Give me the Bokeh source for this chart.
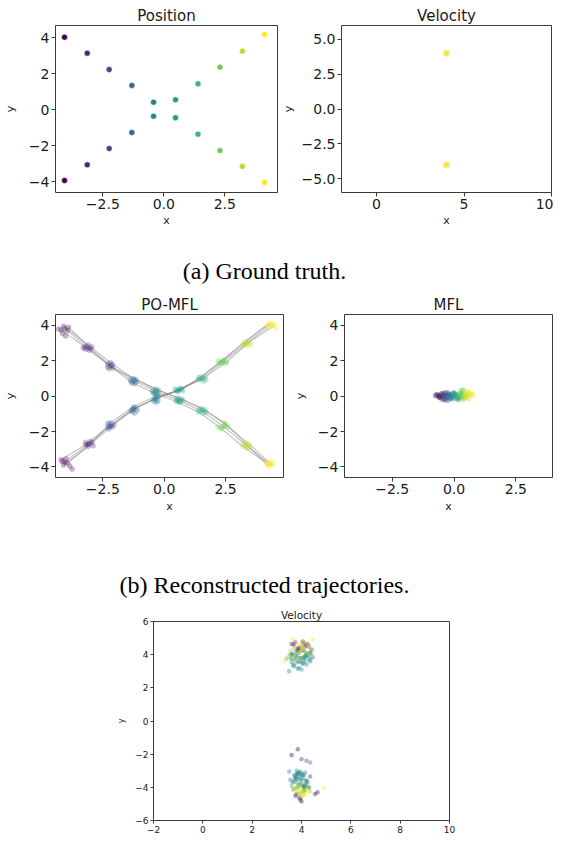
from bokeh.plotting import figure
from bokeh.layouts import column, row
from bokeh.models import FixedTicker, Div, Spacer, Range1d, ColumnDataSource
from bokeh.embed import file_html
from bokeh.resources import INLINE

VIRIDIS = ["#440154", "#482878", "#3E4989", "#31688E", "#26828E",
           "#1F9E89", "#35B779", "#6DCD59", "#B4DE2C", "#FDE725"]

# ---------------- tick values / labels ----------------
pos_xticks = [-2.5, 0.0, 2.5]
pos_xtick_labels = ["−2.5", "0.0", "2.5"]
pos_yticks = [-4.0, -2.0, 0.0, 2.0, 4.0]
pos_ytick_labels = ["−4", "−2", "0", "2", "4"]
vel_xticks = [0.0, 5.0, 10.0]
vel_xtick_labels = ["0", "5", "10"]
vel_yticks = [-5.0, -2.5, 0.0, 2.5, 5.0]
vel_ytick_labels = ["−5.0", "−2.5", "0.0", "2.5", "5.0"]
vel2_xticks = [-2.0, 0.0, 2.0, 4.0, 6.0, 8.0, 10.0]
vel2_xtick_labels = ["−2", "0", "2", "4", "6", "8", "10"]
vel2_yticks = [-6.0, -4.0, -2.0, 0.0, 2.0, 4.0, 6.0]
vel2_ytick_labels = ["−6", "−4", "−2", "0", "2", "4", "6"]

# ---------------- (a) ground truth ----------------
gt_x = [-4.07, -3.14, -2.24, -1.31, -0.42, 0.48, 1.40, 2.30, 3.22, 4.13]
gt_a_y = [4.04, 3.15, 2.24, 1.35, 0.42, -0.45, -1.36, -2.27, -3.15, -4.05]
gt_b_y = [-3.94, -3.07, -2.16, -1.27, -0.36, 0.55, 1.44, 2.37, 3.26, 4.19]
gt_vel_x = [4.0, 4.0, 4.0, 4.0, 4.0, 4.0, 4.0, 4.0, 4.0, 4.0]
gt_vel_a_y = [4.0, 4.0, 4.0, 4.0, 4.0, 4.0, 4.0, 4.0, 4.0, 4.0]
gt_vel_b_y = [-4.0, -4.0, -4.0, -4.0, -4.0, -4.0, -4.0, -4.0, -4.0, -4.0]

# ---------------- (b) PO-MFL particles (per time step) ----------------
pomfl_a_x = [
    [-4.05, -4.20, -3.90, -4.10, -3.95, -4.30, -4.02, -4.15],
    [-3.13, -3.25, -3.00, -3.10, -3.20, -2.95, -3.05, -3.30],
    [-2.19, -2.30, -2.10, -2.20, -2.25, -2.10, -2.30, -2.15],
    [-1.24, -1.35, -1.15, -1.25, -1.30, -1.15, -1.20, -1.38],
    [-0.34, -0.45, -0.25, -0.35, -0.40, -0.25, -0.30, -0.48],
    [0.61, 0.50, 0.70, 0.55, 0.65, 0.75, 0.50, 0.60],
    [1.53, 1.40, 1.65, 1.50, 1.60, 1.40, 1.70, 1.55],
    [2.41, 2.30, 2.50, 2.45, 2.20, 2.60, 2.35, 2.48],
    [3.35, 3.20, 3.45, 3.30, 3.40, 3.25, 3.50, 3.38],
    [4.30, 4.15, 4.40, 4.25, 4.35, 4.20, 4.45, 4.32],
]
pomfl_a_y = [
    [3.82, 3.75, 3.90, 3.95, 3.70, 3.80, 3.40, 3.55],
    [2.75, 2.80, 2.70, 2.90, 2.65, 2.80, 2.60, 2.72],
    [1.71, 1.80, 1.60, 1.90, 1.55, 1.80, 1.65, 1.72],
    [0.88, 0.80, 0.95, 1.00, 0.75, 0.80, 0.70, 0.92],
    [0.28, 0.20, 0.35, 0.40, 0.15, 0.20, 0.10, 0.30],
    [-0.24, -0.30, -0.15, -0.10, -0.35, -0.25, -0.20, -0.32],
    [-0.84, -0.90, -0.75, -0.70, -0.95, -0.80, -0.90, -0.78],
    [-1.71, -1.80, -1.60, -1.50, -1.75, -1.75, -1.85, -1.68],
    [-2.79, -2.85, -2.70, -2.65, -2.95, -2.75, -2.85, -2.90],
    [-3.82, -3.75, -3.90, -3.95, -3.70, -3.85, -3.80, -3.88],
]
pomfl_b_x = [
    [-4.05, -4.20, -3.95, -4.10, -4.00, -3.75, -3.85, -4.15],
    [-3.08, -3.20, -2.95, -3.10, -3.00, -3.20, -2.90, -3.12],
    [-2.19, -2.30, -2.05, -2.20, -2.25, -2.10, -2.30, -2.18],
    [-1.24, -1.35, -1.15, -1.25, -1.30, -1.10, -1.20, -1.28],
    [-0.34, -0.45, -0.25, -0.35, -0.40, -0.25, -0.30, -0.38],
    [0.61, 0.50, 0.70, 0.55, 0.65, 0.45, 0.75, 0.58],
    [1.53, 1.40, 1.65, 1.50, 1.60, 1.40, 1.70, 1.52],
    [2.41, 2.25, 2.55, 2.40, 2.30, 2.50, 2.20, 2.38],
    [3.35, 3.20, 3.45, 3.30, 3.40, 3.25, 3.55, 3.32],
    [4.35, 4.20, 4.45, 4.30, 4.50, 4.25, 4.55, 4.38],
]
pomfl_b_y = [
    [-3.72, -3.60, -3.80, -3.90, -3.55, -4.12, -3.95, -3.70],
    [-2.70, -2.75, -2.65, -2.85, -2.55, -2.60, -2.80, -2.72],
    [-1.68, -1.75, -1.60, -1.50, -1.85, -1.75, -1.55, -1.70],
    [-0.74, -0.80, -0.65, -0.60, -0.90, -0.80, -0.95, -0.72],
    [-0.13, -0.20, -0.05, 0.00, -0.30, -0.25, -0.35, -0.15],
    [0.37, 0.30, 0.40, 0.25, 0.45, 0.40, 0.30, 0.35],
    [0.99, 0.95, 1.05, 1.10, 0.85, 1.05, 0.95, 1.00],
    [1.96, 1.90, 1.95, 2.05, 1.85, 1.85, 2.00, 1.94],
    [2.98, 2.95, 3.05, 3.10, 2.85, 2.90, 2.95, 3.00],
    [4.04, 4.00, 3.95, 4.15, 4.05, 3.90, 3.85, 4.10],
]

# ---------------- (b) MFL particles (per time step) ----------------
mfl_x = [
    [-0.65, -0.55, -0.70, -0.50, -0.60, -0.45, -0.75],
    [-0.50, -0.40, -0.55, -0.35, -0.45, -0.30, -0.60],
    [-0.40, -0.30, -0.20, -0.35, -0.25, -0.15, -0.45],
    [-0.30, -0.20, -0.10, -0.25, -0.05, -0.15, -0.35],
    [-0.15, -0.05, 0.05, -0.10, 0.00, 0.10, -0.20],
    [-0.05, 0.05, 0.15, 0.00, 0.10, 0.20, 0.25],
    [0.10, 0.20, 0.30, 0.15, 0.25, 0.35, 0.40],
    [0.20, 0.30, 0.40, 0.25, 0.35, 0.45, 0.55],
    [0.35, 0.45, 0.55, 0.40, 0.50, 0.60, 0.70],
    [0.45, 0.55, 0.65, 0.50, 0.70, 0.60, 0.80],
]
mfl_y = [
    [0.05, -0.10, 0.10, 0.15, -0.05, 0.00, 0.02],
    [0.10, -0.15, 0.00, 0.20, -0.20, 0.05, -0.05],
    [0.15, -0.05, 0.10, -0.20, 0.20, -0.10, 0.05],
    [-0.10, 0.10, 0.00, -0.25, 0.15, -0.15, -0.05],
    [0.05, -0.15, 0.10, -0.05, 0.20, -0.10, 0.00],
    [-0.05, 0.10, -0.15, 0.15, 0.00, -0.10, 0.05],
    [0.05, -0.10, 0.20, -0.20, 0.10, 0.35, -0.05],
    [0.00, 0.15, -0.10, 0.30, -0.20, 0.10, 0.05],
    [0.10, -0.05, 0.20, 0.30, 0.00, -0.15, 0.10],
    [0.05, 0.20, 0.10, -0.10, 0.15, 0.25, 0.05],
]

# ---------------- (c) velocity particles (per time step) ----------------
vel_up_x = [
    [3.70, 4.10, 4.35, 3.85, 4.20, 3.95, 4.05, 3.60],
    [3.90, 4.25, 3.60, 4.05, 4.40, 3.75, 4.15, 3.85],
    [3.80, 4.15, 4.30, 3.65, 4.00, 4.45, 3.90, 4.20],
    [3.75, 4.05, 4.25, 3.90, 4.35, 3.60, 4.10, 3.85],
    [3.70, 3.95, 4.20, 3.85, 4.10, 3.50, 4.05, 3.80],
    [3.60, 3.90, 4.15, 3.80, 4.30, 4.00, 3.70, 4.20],
    [3.40, 3.75, 4.05, 3.65, 4.20, 3.90, 4.35, 3.55],
    [3.50, 3.80, 4.10, 4.30, 3.60, 3.95, 4.40, 3.70],
    [3.55, 4.00, 4.25, 3.70, 4.45, 3.85, 4.10, 3.95],
    [3.30, 3.65, 4.45, 4.00, 3.80, 4.25, 4.10, 3.90],
]
vel_up_y = [
    [4.60, 4.70, 4.10, 4.35, 4.55, 3.80, 4.25, 4.65],
    [4.40, 4.65, 4.05, 4.80, 4.30, 4.75, 4.50, 4.20],
    [4.20, 3.90, 4.50, 4.00, 4.45, 3.85, 4.30, 4.10],
    [3.70, 3.45, 3.95, 4.10, 3.60, 3.75, 3.85, 3.55],
    [3.30, 3.60, 3.40, 3.15, 3.75, 3.00, 3.50, 3.90],
    [3.55, 3.20, 3.60, 3.85, 3.75, 3.10, 3.40, 3.95],
    [3.75, 3.95, 3.80, 3.35, 4.05, 3.60, 3.70, 4.00],
    [3.90, 4.15, 4.25, 3.95, 3.75, 3.65, 4.05, 4.35],
    [4.25, 4.50, 4.10, 3.95, 4.30, 3.75, 4.40, 4.60],
    [3.60, 4.95, 4.90, 4.35, 4.60, 4.55, 4.75, 4.15],
]
vel_dn_x = [
    [3.85, 3.60, 4.00, 4.65, 4.55, 3.75, 4.15, 3.95],
    [4.00, 3.90, 4.20, 3.70, 4.35, 3.95, 3.80, 4.10],
    [4.20, 3.80, 4.05, 3.65, 4.30, 3.90, 4.10, 3.75],
    [4.35, 3.90, 3.75, 4.10, 3.55, 4.20, 4.00, 3.85],
    [3.80, 4.00, 3.90, 4.15, 3.70, 3.50, 4.05, 3.85],
    [3.85, 4.05, 3.95, 3.75, 4.20, 3.90, 4.00, 3.80],
    [3.70, 4.00, 3.85, 4.25, 3.60, 4.10, 3.95, 4.15],
    [3.80, 4.10, 3.95, 4.30, 3.65, 4.05, 3.90, 4.20],
    [3.75, 4.00, 4.20, 3.90, 4.35, 3.85, 4.05, 3.95],
    [4.90, 3.80, 4.10, 3.95, 4.25, 3.70, 4.00, 4.15],
]
vel_dn_y = [
    [-1.70, -2.05, -4.85, -4.30, -4.40, -4.50, -3.95, -4.65],
    [-2.30, -3.85, -3.60, -4.10, -3.35, -4.75, -4.40, -3.95],
    [-2.40, -3.50, -3.90, -3.70, -4.00, -4.60, -4.20, -3.30],
    [-2.50, -3.10, -3.40, -3.25, -3.55, -3.75, -3.60, -3.20],
    [-3.00, -3.20, -3.35, -3.10, -3.25, -3.05, -3.45, -3.15],
    [-3.15, -3.30, -3.05, -3.50, -3.60, -3.45, -3.20, -3.70],
    [-3.60, -3.80, -4.00, -3.70, -3.90, -4.10, -3.55, -3.85],
    [-4.00, -4.20, -3.85, -4.05, -4.15, -4.35, -4.30, -3.95],
    [-4.10, -4.30, -4.15, -4.45, -4.25, -3.95, -4.50, -4.00],
    [-4.05, -4.25, -4.40, -4.55, -4.30, -4.10, -4.20, -4.45],
]

captions = ["(a) Ground truth.", "(b) Reconstructed trajectories."]

AX = "#3a3a3a"
TXT = "#1a1a1a"


def flat(xs, ys):
    X, Y, C = [], [], []
    for t, (xr, yr) in enumerate(zip(xs, ys)):
        X += list(xr)
        Y += list(yr)
        C += [VIRIDIS[t]] * len(xr)
    return ColumnDataSource(dict(x=X, y=Y, c=C))


def make_fig(width, height, xr, yr, borders, title, xt, xl, yt, yl,
             tick_size="14px", title_size="15px", label_size="11px",
             xlabel="x", ylabel="y", xls=3, yls=6, tick_out=4):
    p = figure(width=width, height=height, x_range=Range1d(*xr), y_range=Range1d(*yr),
               output_backend="svg", toolbar_location=None, title=title,
               min_border_left=borders[0], min_border_right=borders[1],
               min_border_top=borders[2], min_border_bottom=borders[3])
    p.title.align = "center"
    p.title.text_font = "DejaVu Sans"
    p.title.text_font_style = "normal"
    p.title.text_font_size = title_size
    p.title.text_color = TXT
    p.title.standoff = 2
    p.outline_line_color = AX
    p.outline_line_width = 1
    p.outline_line_alpha = 1
    p.xgrid.visible = False
    p.ygrid.visible = False
    p.background_fill_color = "white"
    p.border_fill_color = "white"
    for ax, ticks, labels, lab, ls in ((p.xaxis[0], xt, xl, xlabel, xls),
                                       (p.yaxis[0], yt, yl, ylabel, yls)):
        ax.ticker = FixedTicker(ticks=ticks)
        ax.major_label_overrides = dict(zip(ticks, labels))
        ax.axis_line_color = None
        ax.major_tick_line_color = AX
        ax.major_tick_out = tick_out
        ax.major_tick_in = 0
        ax.minor_tick_line_color = None
        ax.major_label_text_font = "DejaVu Sans"
        ax.major_label_text_font_size = tick_size
        ax.major_label_text_color = TXT
        ax.major_label_standoff = 2
        if lab:
            ax.axis_label = lab
            ax.axis_label_text_font = "DejaVu Sans"
            ax.axis_label_text_font_style = "normal"
            ax.axis_label_text_font_size = label_size
            ax.axis_label_text_color = TXT
            ax.axis_label_standoff = ls
    return p


# ---- Position (ground truth) ----
p1 = make_fig(278, 232, (-4.44, 4.66), (-4.61, 4.69), (54, 1, 25, 40), "Position",
              pos_xticks, pos_xtick_labels, pos_yticks, pos_ytick_labels, xls=2, yls=9)
for t in range(len(gt_x)):
    c = VIRIDIS[t]
    p1.scatter([gt_x[t]], [gt_a_y[t]], size=6, fill_color=c, line_color="white", line_width=0.5)
    p1.scatter([gt_x[t]], [gt_b_y[t]], size=6, fill_color=c, line_color="white", line_width=0.5)

# ---- Velocity (ground truth) ----
p2 = make_fig(275, 232, (-2, 10), (-6, 6), (57, 2, 25, 40), "Velocity",
              vel_xticks, vel_xtick_labels, vel_yticks, vel_ytick_labels, xls=2, yls=4)
for t in range(len(gt_vel_x)):
    c = VIRIDIS[t]
    p2.scatter([gt_vel_x[t]], [gt_vel_a_y[t]], size=6, fill_color=c, line_color="white", line_width=0.5)
    p2.scatter([gt_vel_x[t]], [gt_vel_b_y[t]], size=6, fill_color=c, line_color="white", line_width=0.5)

# ---- PO-MFL ----
p3 = make_fig(290, 228, (-4.43, 4.86), (-4.6, 4.62), (54, 7, 20, 43), "PO-MFL",
              pos_xticks, pos_xtick_labels, pos_yticks, pos_ytick_labels, xls=3, yls=9)
for xs, ys in ((pomfl_a_x, pomfl_a_y), (pomfl_b_x, pomfl_b_y)):
    for k in range(4):
        p3.line([r[k] for r in xs], [r[k] for r in ys], line_color="#808080",
                line_alpha=0.45, line_width=1.2)
p3.scatter("x", "y", source=flat(pomfl_a_x, pomfl_a_y), size=5.5, fill_color="c",
           line_color=None, fill_alpha=0.3)
p3.scatter("x", "y", source=flat(pomfl_b_x, pomfl_b_y), size=5.5, fill_color="c",
           line_color=None, fill_alpha=0.3)

# ---- MFL ----
p4 = make_fig(263, 228, (-4.43, 3.98), (-4.6, 4.62), (51, 1, 20, 43), "MFL",
              pos_xticks, pos_xtick_labels, pos_yticks, pos_ytick_labels, xls=3, yls=8)
for k in range(3):
    p4.line([r[k] for r in mfl_x], [r[k] for r in mfl_y], line_color="#808080",
            line_alpha=0.3, line_width=1)
p4.scatter("x", "y", source=flat(mfl_x, mfl_y), size=5.5, fill_color="c",
           line_color=None, fill_alpha=0.35)

# ---- Velocity (reconstructed) ----
p5 = make_fig(347, 231, (-2, 10), (-6, 6), (41, 10, 14, 16), "Velocity",
              vel2_xticks, vel2_xtick_labels, vel2_yticks, vel2_ytick_labels,
              tick_size="9px", title_size="10.5px", label_size="8px",
              xlabel=None, ylabel="y", yls=6, tick_out=3)
p5.scatter("x", "y", source=flat(vel_up_x, vel_up_y), size=4.5, fill_color="c",
           line_color=None, fill_alpha=0.4)
p5.scatter("x", "y", source=flat(vel_dn_x, vel_dn_y), size=4.5, fill_color="c",
           line_color=None, fill_alpha=0.4)


def caption(text, height, pad):
    return Div(text=text, width=529, height=height, margin=(0, 0, 0, 0),
               styles={"font-family": "'Liberation Serif', serif", "font-size": "24px",
                       "line-height": "28px", "padding-top": f"{pad}px",
                       "text-align": "center", "color": "black",
                       "box-sizing": "border-box"})


layout = column(
    row(p1, p2, spacing=0),
    caption(captions[0], 60, 25),
    row(p3, p4, spacing=0),
    caption(captions[1], 85, 51),
    row(Spacer(width=112, height=231), p5, spacing=0),
    spacing=0,
)

open("out.html", "w").write(file_html(layout, INLINE))
